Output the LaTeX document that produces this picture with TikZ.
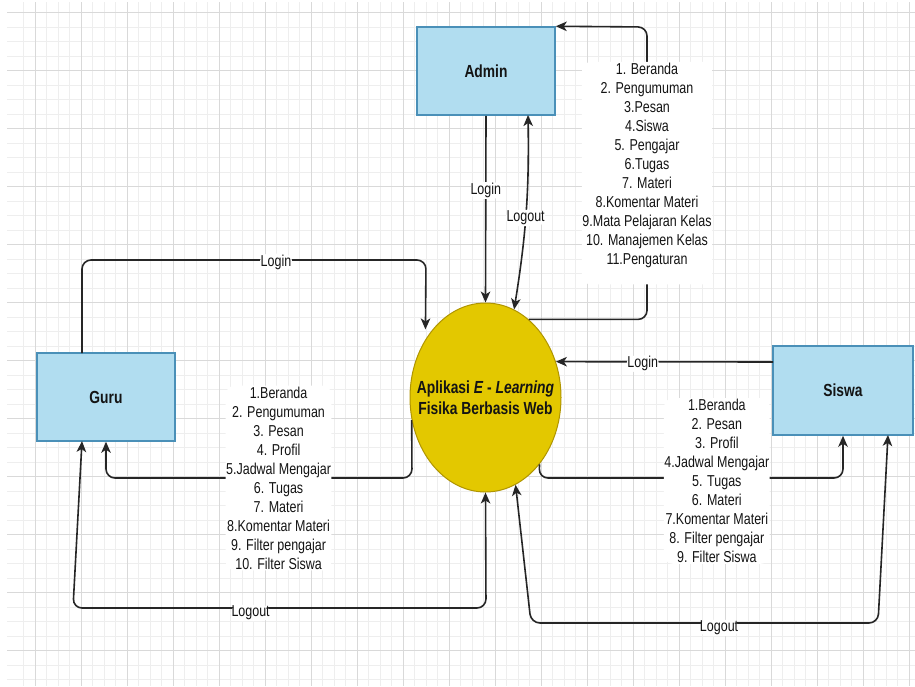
\documentclass[tikz,border=0pt]{standalone}
\usepackage{fontspec}
\setmainfont{Liberation Sans}[FakeStretch=0.79]
\usetikzlibrary{arrows.meta,shapes.geometric}
\definecolor{boxfill}{HTML}{B1DDF0}
\definecolor{boxline}{HTML}{4A90B8}
\definecolor{ellfill}{HTML}{E3C800}
\definecolor{elline}{HTML}{B09500}
\definecolor{linec}{HTML}{262626}
\definecolor{txt}{HTML}{141414}
\definecolor{gridminor}{HTML}{EEEEEE}
\definecolor{gridmajor}{HTML}{D9D9D9}
\tikzset{
  ebox/.style={draw=boxline, fill=boxfill, line width=1.5pt, minimum width=138pt, minimum height=88pt,
    font=\bfseries\fontsize{17.5}{21}\selectfont, text=txt},
  proc/.style={ellipse, draw=elline, fill=ellfill, line width=1pt, minimum width=151pt, minimum height=189pt, inner sep=0pt},
  proctext/.style={align=center, font=\bfseries\fontsize{17.5}{21}\selectfont, text=txt},
  conn/.style={draw=linec, line width=1.6pt, rounded corners=9pt},
  arr/.style={-{Stealth[length=11pt,width=9.5pt,inset=3pt]}},
  biarr/.style={{Stealth[length=11pt,width=9.5pt,inset=3pt]}-{Stealth[length=11pt,width=9.5pt,inset=3pt]}},
  lbl/.style={fill=white, inner sep=1pt, font=\fontsize{15.8}{19}\selectfont, text=txt},
  listlbl/.style={lbl, align=center, inner xsep=0.5pt}
}
\begin{document}
\begin{tikzpicture}[x=1pt,y=-1pt]
\useasboundingbox (0,0) rectangle (915,686);
\fill[white] (0,0) rectangle (915,686);
\begin{scope}
\clip (7,2) rectangle (915,686);
\foreach \i in {0,...,77} { \draw[gridminor, line width=0.8pt] ({23.5+11.5*\i},2) -- ++(0,684); }
\foreach \j in {0,...,46} { \draw[gridminor, line width=0.8pt] (7,{12.7+14.5*\j}) -- ++(908,0); }
\foreach \i in {0,...,19} { \draw[gridmajor, line width=1pt] ({35+46*\i},2) -- ++(0,684); }
\foreach \j in {0,...,11} { \draw[gridmajor, line width=1pt] (7,{12.7+58*\j}) -- ++(908,0); }
\end{scope}

% nodes
\node[ebox] (admin) at (486,71) {Admin};
\node[ebox] (guru) at (106,397) {Guru};
\node[ebox, minimum width=140pt, minimum height=89pt] (siswa) at (843,390.5) {Siswa};
\node[proc, label={[proctext]center:{Aplikasi \textit{E} - \textit{Learning}\\Fisika Berbasis Web}}] (app) at (485.5,397.5) {};

% helper coordinates
\coordinate (alo) at (528,115);
\coordinate (ad1) at (647,27);
\coordinate (gl) at (82,353);
\coordinate (g1) at (82,260);
\coordinate (g2) at (426,260);
\coordinate (gd1) at (412,478);
\coordinate (gd2) at (106,478);
\coordinate (glo) at (82,441);
\coordinate (g3) at (73,608);
\coordinate (g4) at (486,608);
\coordinate (slo) at (888,435);
\coordinate (s3) at (878,623);
\coordinate (s4) at (531,623);
\coordinate (sd1) at (539,478);
\coordinate (sd2) at (843,478);
\coordinate (sl) at (773,362);

% Admin
\draw[conn,arr] (admin.south) -- node[lbl,pos=0.4]{Login} (app.north);
\draw[conn,biarr] (app.72) to[bend right=5] node[lbl,pos=0.47]{Logout} (alo);
\draw[conn,arr] (app.61) -| node[listlbl,pos=0.75]{1. Beranda\\2. Pengumuman\\3.Pesan\\4.Siswa\\5. Pengajar\\6.Tugas\\7. Materi\\8.Komentar Materi\\9.Mata Pelajaran Kelas\\10. Manajemen Kelas\\11.Pengaturan\\\mbox{}} (ad1) -- (admin.north east);

% Guru
\draw[conn,arr,shorten >=10pt] (gl) -- (g1) -- node[lbl,pos=0.564,yshift=-2pt]{Login} (g2) -- (app.136);
\draw[conn,arr] (app.197) -- (gd1) -- node[listlbl,pos=0.436]{1.Beranda\\2. Pengumuman\\3. Pesan\\4. Profil\\5.Jadwal Mengajar\\6. Tugas\\7. Materi\\8.Komentar Materi\\9. Filter pengajar\\10. Filter Siswa} (gd2) -- (guru.south);
\draw[conn,biarr] (glo) -- (g3) -- node[lbl,pos=0.43,yshift=-5pt]{Logout} (g4) -- (app.south);

% Siswa
\draw[conn,arr] (sl) -- node[lbl,pos=0.6,yshift=-2pt]{Login} (app.27);
\draw[conn,arr] (app.-51) -- (sd1) -- node[listlbl,pos=0.585,yshift=-3pt]{1.Beranda\\2. Pesan\\3. Profil\\4.Jadwal Mengajar\\5. Tugas\\6. Materi\\7.Komentar Materi\\8. Filter pengajar\\9. Filter Siswa} (sd2) -- (siswa.south);
\draw[conn,biarr] (slo) -- (s3) -- node[lbl,pos=0.458,yshift=-5pt]{Logout} (s4) -- (app.-71);
\end{tikzpicture}
\end{document}
